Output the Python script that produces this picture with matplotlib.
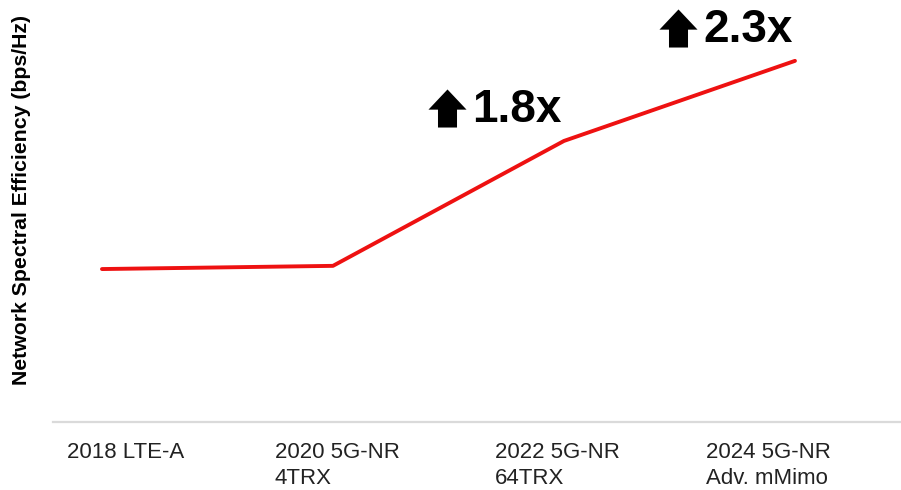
import matplotlib.pyplot as plt
from matplotlib.path import Path
from matplotlib.transforms import offset_copy

plt.rcParams['font.family'] = ['Liberation Sans', 'DejaVu Sans']

CATEGORIES = ['2018 LTE-A', '2020 5G-NR\n4TRX', '2022 5G-NR\n64TRX', '2024 5G-NR\nAdv. mMimo']
EFFICIENCY = [1.0, 1.02, 1.8, 2.3]
GAIN_LABELS = {2: '1.8x', 3: '2.3x'}

# pixel shift of each category label (left edge) from its point
LABEL_SHIFT = [-35, -58, -69, -89]

RED = '#ee1111'

# solid block arrow pointing up
UP_ARROW = Path([(0, 0.5), (0.5, -0.03), (0.25, -0.03), (0.25, -0.5),
                 (-0.25, -0.5), (-0.25, -0.03), (-0.5, -0.03), (0, 0.5)],
                [Path.MOVETO] + [Path.LINETO] * 6 + [Path.CLOSEPOLY])


def plot_efficiency():
    fig = plt.figure(figsize=(9.01, 4.9), dpi=100)
    ax = fig.add_axes([53 / 901, 68 / 490, 848 / 901, 422 / 490])

    x = list(range(len(EFFICIENCY)))
    ax.plot(x, EFFICIENCY, color=RED, lw=2.8, solid_capstyle='round', solid_joinstyle='round')

    ax.set_xlim(-0.212, 3.459)
    ax.set_ylim(0.045, 2.68)

    for s in ['top', 'right', 'left']:
        ax.spines[s].set_visible(False)
    ax.spines['bottom'].set_color('#dadada')
    ax.spines['bottom'].set_linewidth(1.6)
    ax.set_xticks([])
    ax.set_yticks([])

    # category labels under the axis
    for i, (lab, dx) in enumerate(zip(CATEGORIES, LABEL_SHIFT)):
        ax.annotate(lab, xy=(i, 0), xycoords=ax.get_xaxis_transform(),
                    xytext=(dx, -20), textcoords='offset pixels',
                    ha='left', va='top', fontsize=16, color='#222222',
                    linespacing=1.3, annotation_clip=False)

    # growth callouts above the last two points
    for i, txt in GAIN_LABELS.items():
        ax.annotate(txt, xy=(i, EFFICIENCY[i]), xytext=(-47, 31),
                    textcoords='offset pixels', ha='center', va='center',
                    fontsize=33, fontweight='bold', color='black')
        tr = offset_copy(ax.transData, fig=fig, x=-117, y=33, units='dots')
        ax.plot(i, EFFICIENCY[i], marker=UP_ARROW, markersize=27.4,
                color='black', mec='black', mew=0, transform=tr)

    fig.text(22 / 901, 1 - 200 / 490, 'Network Spectral Efficiency (bps/Hz)',
             rotation=90, ha='center', va='center', fontsize=15.3, fontweight='bold')

    fig.savefig('out.png', dpi=100, facecolor='white')


plot_efficiency()
